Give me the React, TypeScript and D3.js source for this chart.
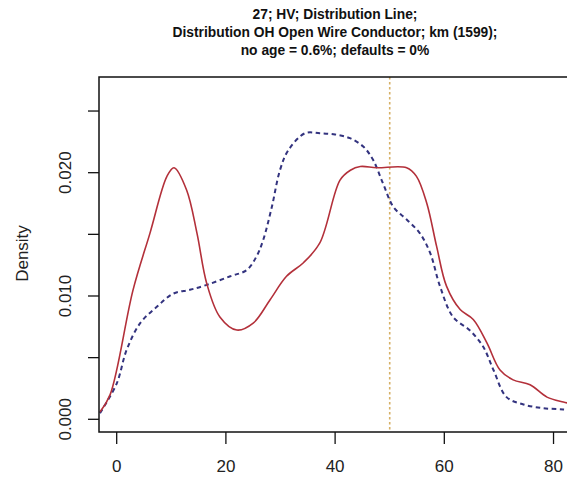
import React from "react";
import * as d3 from "d3";

const titleLines = [
  "27; HV; Distribution Line;",
  "Distribution OH Open Wire Conductor; km (1599);",
  "no age = 0.6%; defaults = 0%",
];
const yLabel = "Density";
const xTicks = [0, 20, 40, 60, 80];
const yTicks = [0, 0.005, 0.01, 0.015, 0.02, 0.025];
const yTickLabels = ["0.000", "", "0.010", "", "0.020", ""];
const refX = 50;

const redX = [-3.06, -1.2, 3.0, 6.1, 9.2, 10.5, 12.8, 14.7, 16.5, 18.9, 22, 25, 28.1, 31.1, 34.2, 37.2, 40.9, 42.8, 44.6, 47.6, 53.1, 54.9, 56.8, 58.6, 60.4, 62.9, 65.3, 67.8, 70.2, 72.6, 75.7, 78.8, 81.8, 84];
const redY = [0.0006, 0.002, 0.0105, 0.0151, 0.0197, 0.0204, 0.0186, 0.0151, 0.011, 0.0083, 0.00724, 0.0078, 0.0097, 0.0116, 0.0127, 0.0143, 0.0194, 0.0202, 0.0205, 0.0204, 0.0204, 0.0197, 0.0175, 0.014, 0.0108, 0.0089, 0.0081, 0.0062, 0.004, 0.0032, 0.0028, 0.0018, 0.0014, 0.0012];

const blueX = [-3.06, 0, 1.8, 4.3, 7.3, 10.4, 13.4, 16.5, 20.8, 23.8, 25.6, 26.8, 28.4, 29.9, 31.4, 34.5, 37.2, 40, 42.7, 45.2, 47, 48.8, 50.7, 53.1, 55.5, 57.4, 59.2, 61.6, 64.7, 67.1, 69, 71.4, 74.5, 78.1, 81.8, 84];
const blueY = [0.0005, 0.0029, 0.0056, 0.0078, 0.0091, 0.0102, 0.0105, 0.0109, 0.0116, 0.0121, 0.0132, 0.0145, 0.0172, 0.0202, 0.0218, 0.0232, 0.0232, 0.0231, 0.0228, 0.0221, 0.021, 0.0191, 0.0172, 0.0162, 0.0151, 0.0135, 0.0108, 0.0083, 0.0072, 0.0059, 0.004, 0.0018, 0.0012, 0.0009, 0.0008, 0.0007];

export default function App() {
  const W = 567, H = 477;
  const left = 99, right = 571, top = 77, bottom = 432;
  const x = d3.scaleLinear().domain([-3.24, 83.2]).range([left, right]);
  const y = d3.scaleLinear().domain([-0.00103, 0.02776]).range([bottom, top]);
  const redPath = d3.line<number>().curve(d3.curveCatmullRom.alpha(0.5)).x((_, i) => x(redX[i])).y((_, i) => y(redY[i]))(redX as any) || "";
  const bluePath = d3.line<number>().curve(d3.curveCatmullRom.alpha(0.5)).x((_, i) => x(blueX[i])).y((_, i) => y(blueY[i]))(blueX as any) || "";
  const font = "'Liberation Sans', Arial, Helvetica, sans-serif";
  const cx = (left + right) / 2;
  return (
    <svg width={W} height={H} style={{ position: "absolute", left: 0, top: 0, background: "#fff" }} fontFamily={font}>
      <defs>
        <clipPath id="pc"><rect x={left} y={top} width={right - left} height={bottom - top} /></clipPath>
      </defs>
      {titleLines.map((t, i) => (
        <text key={i} x={cx} y={19 + i * 18} textAnchor="middle" fontWeight="bold" fontSize={13.8} fill="#111">{t}</text>
      ))}
      <g clipPath="url(#pc)">
        <line x1={x(refX)} x2={x(refX)} y1={top} y2={bottom} stroke="#d6b066" strokeWidth={1.6} strokeDasharray="2.5,2.5" />
        <path d={bluePath} fill="none" stroke="#33337f" strokeWidth={2} strokeDasharray="4.5,3.5" />
        <path d={redPath} fill="none" stroke="#b3303a" strokeWidth={1.6} />
      </g>
      <rect x={left} y={top} width={right - left} height={bottom - top} fill="none" stroke="#111" strokeWidth={1.5} />
      {yTicks.map((v, i) => (
        <g key={i}>
          <line x1={left} x2={left - 11} y1={y(v)} y2={y(v)} stroke="#111" strokeWidth={1.3} />
          {yTickLabels[i] && (
            <text transform={`translate(${71},${y(v)}) rotate(-90)`} textAnchor="middle" fontSize={17} fill="#222">{yTickLabels[i]}</text>
          )}
        </g>
      ))}
      {xTicks.map((v, i) => (
        <g key={i}>
          <line x1={x(v)} x2={x(v)} y1={bottom} y2={bottom + 12} stroke="#111" strokeWidth={1.3} />
          <text x={x(v)} y={472} textAnchor="middle" fontSize={17} fill="#222">{v}</text>
        </g>
      ))}
      <text transform={`translate(28,${253.5}) rotate(-90)`} textAnchor="middle" fontSize={17} fill="#222">{yLabel}</text>
    </svg>
  );
}
